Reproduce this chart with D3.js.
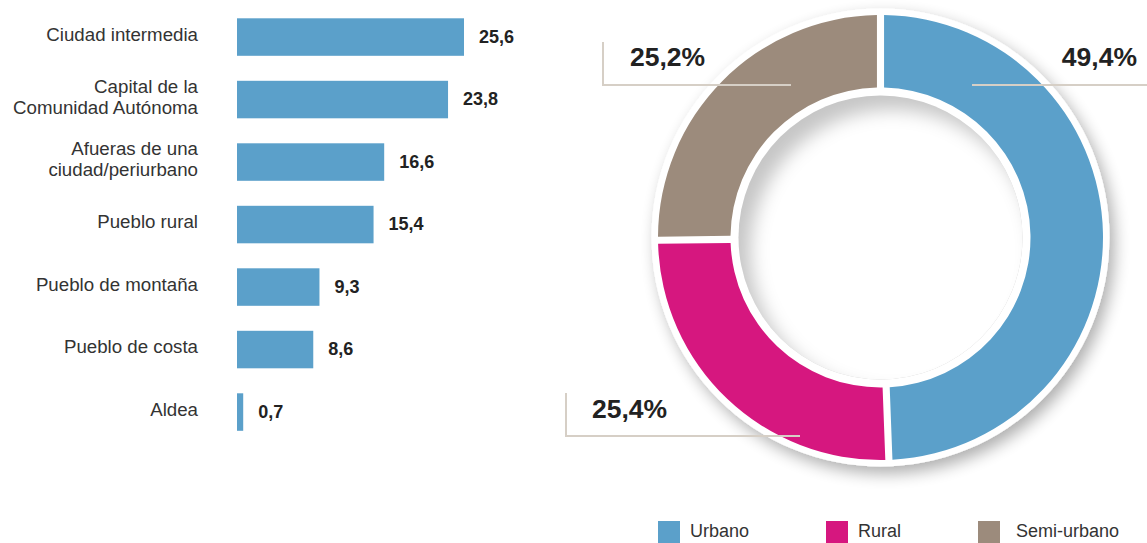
<!DOCTYPE html>
<html>
<head>
<meta charset="utf-8">
<script src="https://cdn.jsdelivr.net/npm/d3@7"></script>
<style>
  html, body { margin: 0; padding: 0; background: #fff; }
  svg { display: block; font-family: "Liberation Sans", Arial, Helvetica, sans-serif; }
</style>
</head>
<body>
<svg id="chart" width="1147" height="543"></svg>
<script>
// Tipo de municipio (barras, %)
const places = [
  ["Ciudad intermedia"],
  ["Capital de la", "Comunidad Autónoma"],
  ["Afueras de una", "ciudad/periurbano"],
  ["Pueblo rural"],
  ["Pueblo de montaña"],
  ["Pueblo de costa"],
  ["Aldea"]
];
const placeValues = [25.6, 23.8, 16.6, 15.4, 9.3, 8.6, 0.7];

// Entorno (anillo, %)
const areas = ["Urbano", "Rural", "Semi-urbano"];
const areaValues = [49.4, 25.4, 25.2];
const areaColors = ["#5ba0ca", "#d6177f", "#9c8b7c"];

const fmt = v => v.toFixed(1).replace(".", ",");

const svg = d3.select("#chart");
const defs = svg.append("defs");

// ---------- Bar chart ----------
const x = d3.scaleLinear().domain([0, d3.max(placeValues)]).range([237, 464]);
const y = d3.scaleBand()
  .domain(d3.range(places.length))
  .range([5.8, 443.3])
  .paddingInner(0.4)
  .paddingOuter(0.2);

const bars = svg.append("g").attr("class", "bars");
const rows = bars.selectAll("g.row")
  .data(placeValues.map((v, i) => ({ v, i, label: places[i] })))
  .join("g").attr("class", "row");

rows.append("rect")
  .attr("x", x(0))
  .attr("y", d => y(d.i))
  .attr("width", d => x(d.v) - x(0))
  .attr("height", y.bandwidth())
  .attr("fill", "#5ba0ca");

rows.append("text")
  .attr("x", d => x(d.v) + 15)
  .attr("y", d => y(d.i) + y.bandwidth() / 2 + 5.5)
  .attr("font-size", 18)
  .attr("font-weight", "bold")
  .attr("fill", "#222")
  .text(d => fmt(d.v));

rows.each(function (d) {
  const c = y(d.i) + y.bandwidth() / 2;
  const t = d3.select(this).append("text")
    .attr("text-anchor", "end")
    .attr("font-size", 18.7)
    .attr("fill", "#333");
  const lines = d.label;
  const first = lines.length === 1 ? c + 3.7 : c - 7;
  lines.forEach((ln, k) => {
    t.append("tspan").attr("x", 198).attr("y", first + k * 21.3).text(ln);
  });
});

// ---------- Donut ----------
const cx = 880.5, cy = 237.5;
const rOuter = 222.5, rInner = 150, rBase = 229, rHole = 142;

const drop = defs.append("filter").attr("id", "ringShadow")
  .attr("x", "-20%").attr("y", "-20%").attr("width", "140%").attr("height", "140%");
drop.append("feGaussianBlur").attr("in", "SourceAlpha").attr("stdDeviation", 8).attr("result", "b");
drop.append("feOffset").attr("in", "b").attr("dx", 5).attr("dy", 7).attr("result", "o");
drop.append("feComponentTransfer").attr("in", "o").attr("result", "s")
  .append("feFuncA").attr("type", "linear").attr("slope", 0.32);
const dm = drop.append("feMerge");
dm.append("feMergeNode").attr("in", "s");
dm.append("feMergeNode").attr("in", "SourceGraphic");

const soft = defs.append("filter").attr("id", "soft")
  .attr("x", "-30%").attr("y", "-30%").attr("width", "160%").attr("height", "160%");
soft.append("feGaussianBlur").attr("stdDeviation", 9);

defs.append("clipPath").attr("id", "holeClip")
  .append("circle").attr("cx", cx).attr("cy", cy).attr("r", rHole);

const donut = svg.append("g").attr("class", "donut");

donut.append("circle")
  .attr("cx", cx).attr("cy", cy).attr("r", rBase)
  .attr("fill", "#fff")
  .attr("filter", "url(#ringShadow)");

// shaded hole: the ring casts a soft shadow onto its upper-left inside
const hole = donut.append("g").attr("clip-path", "url(#holeClip)");
hole.append("circle").attr("cx", cx).attr("cy", cy).attr("r", rHole + 4).attr("fill", "#c6c6c6");
hole.append("circle").attr("cx", cx + 12).attr("cy", cy + 14).attr("r", rHole)
  .attr("fill", "#fff").attr("filter", "url(#soft)");

const pie = d3.pie().sort(null).value(d => d)(areaValues);
const arc = d3.arc().innerRadius(rInner).outerRadius(rOuter).padAngle(0.04).padRadius(178);

donut.append("g").attr("transform", `translate(${cx},${cy})`)
  .selectAll("path")
  .data(pie)
  .join("path")
  .attr("d", arc)
  .attr("fill", (d, i) => areaColors[i]);

// leader lines and percentage labels
const callouts = [
  { i: 0, pts: [[91.5, -152.5], [266.5, -152.5]], tx: 1137, ty: 66, anchor: "end" },
  { i: 1, pts: [[-314.5, 155.5], [-314.5, 198.5], [-80.5, 198.5]], tx: 592, ty: 418, anchor: "start" },
  { i: 2, pts: [[-277.5, -195.5], [-277.5, -152.5], [-89.5, -152.5]], tx: 630, ty: 66, anchor: "start" }
];
const line = d3.line();
const ann = svg.append("g").attr("class", "callouts");
ann.selectAll("path")
  .data(callouts)
  .join("path")
  .attr("d", d => line(d.pts.map(p => [cx + p[0], cy + p[1]])))
  .attr("fill", "none")
  .attr("stroke", "#d6cfc6")
  .attr("stroke-width", 2);
ann.selectAll("text")
  .data(callouts)
  .join("text")
  .attr("x", d => d.tx)
  .attr("y", d => d.ty)
  .attr("text-anchor", d => d.anchor)
  .attr("font-size", 26.5)
  .attr("font-weight", "bold")
  .attr("fill", "#222")
  .text(d => fmt(areaValues[d.i]) + "%");

// ---------- Legend ----------
const legendX = [658, 826, 978];
const legend = svg.append("g").attr("class", "legend");
const li = legend.selectAll("g")
  .data(areas.map((a, i) => ({ a, i })))
  .join("g")
  .attr("transform", d => `translate(${legendX[d.i]},521)`);
li.append("rect").attr("width", 22).attr("height", 22).attr("fill", d => areaColors[d.i]);
li.append("text").attr("x", d => d.i === 2 ? 38 : 32).attr("y", 16)
  .attr("font-size", 18).attr("fill", "#333").text(d => d.a);
</script>
</body>
</html>
